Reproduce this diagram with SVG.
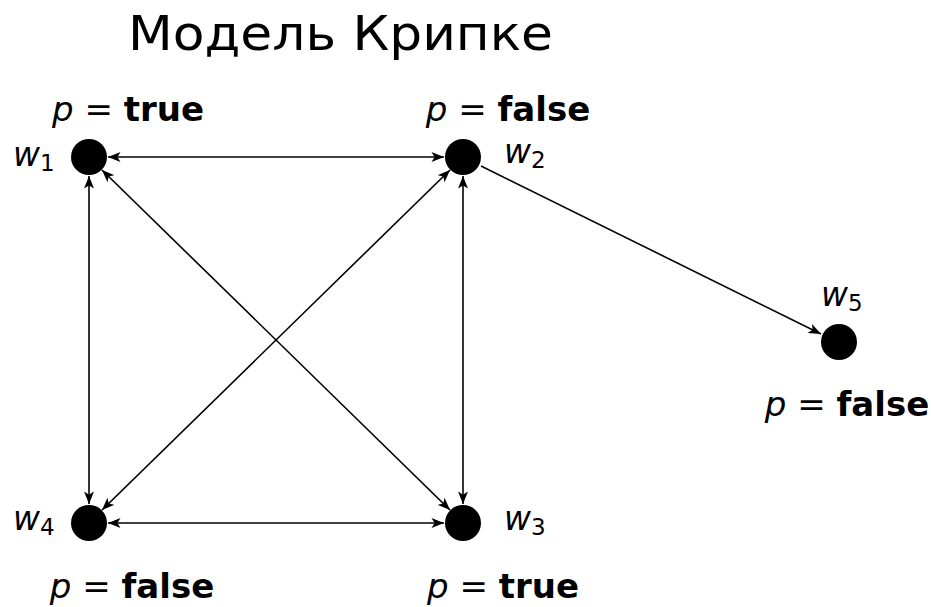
<svg xmlns="http://www.w3.org/2000/svg" width="931" height="607" viewBox="0 0 931 607">
<defs>
<style>
text{font-family:"DejaVu Sans","Liberation Sans",sans-serif;fill:#000}
.title{font-size:48px}
.lab{font-size:34px;text-anchor:middle}
.it{font-style:italic}
.b{font-weight:bold}
.w{font-size:33px;font-style:italic}
.sub{font-size:23px;font-style:normal}
.e{stroke:#000;stroke-width:1.6;fill:none;marker-end:url(#ah)}
.e2{marker-start:url(#ahs)}
.n{fill:#000}
</style>
<marker id="ah" viewBox="0 0 10 8" refX="10" refY="4" markerWidth="13" markerHeight="10" markerUnits="userSpaceOnUse" orient="auto"><path d="M0,0 L10,4 L0,8 L2.5,4 z" fill="#000"/></marker>
<marker id="ahs" viewBox="0 0 10 8" refX="0" refY="4" markerWidth="13" markerHeight="10" markerUnits="userSpaceOnUse" orient="auto"><path d="M10,0 L0,4 L10,8 L7.5,4 z" fill="#000"/></marker>
</defs>
<text class="title" x="128" y="50" textLength="425" lengthAdjust="spacingAndGlyphs">Модель Крипке</text>
<g id="edges">
<line class="e e2" x1="108" y1="157" x2="444" y2="157"/>
<line class="e e2" x1="89" y1="176" x2="89" y2="504"/>
<line class="e e2" x1="463" y1="176" x2="463" y2="504"/>
<line class="e e2" x1="108" y1="523" x2="444" y2="523"/>
<line class="e e2" x1="102" y1="170" x2="450" y2="510"/>
<line class="e e2" x1="450" y1="170" x2="102" y2="510"/>
<line class="e" x1="481" y1="166" x2="821" y2="334"/>
</g>
<g id="w1">
<circle class="n" cx="89" cy="157" r="18"/>
<text class="w" x="13" y="166">w<tspan class="sub" dy="5">1</tspan></text>
<text class="lab" x="128" y="121"><tspan class="it">p</tspan> = <tspan class="b">true</tspan></text>
</g>
<g id="w2">
<circle class="n" cx="463" cy="157" r="18"/>
<text class="w" x="504" y="163">w<tspan class="sub" dy="5">2</tspan></text>
<text class="lab" x="508" y="121"><tspan class="it">p</tspan> = <tspan class="b">false</tspan></text>
</g>
<g id="w3">
<circle class="n" cx="463" cy="523" r="18"/>
<text class="w" x="504" y="530">w<tspan class="sub" dy="5">3</tspan></text>
<text class="lab" x="503" y="598"><tspan class="it">p</tspan> = <tspan class="b">true</tspan></text>
</g>
<g id="w4">
<circle class="n" cx="89" cy="523" r="18"/>
<text class="w" x="13" y="530">w<tspan class="sub" dy="5">4</tspan></text>
<text class="lab" x="132" y="598"><tspan class="it">p</tspan> = <tspan class="b">false</tspan></text>
</g>
<g id="w5">
<circle class="n" cx="839" cy="342" r="18"/>
<text class="w" x="821" y="306">w<tspan class="sub" dy="5">5</tspan></text>
<text class="lab" x="847" y="416"><tspan class="it">p</tspan> = <tspan class="b">false</tspan></text>
</g>
</svg>
